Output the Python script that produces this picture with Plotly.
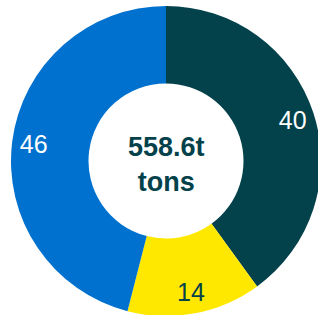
import plotly.graph_objects as go

labels = ["A", "B", "C"]
values = [40, 14, 46]
colors = ["#03414b", "#ffe800", "#0071ce"]
text_colors = ["#ffffff", "#03414b", "#ffffff"]
center_text = "<b>558.6t<br>tons</b>"

FONT = "Liberation Sans, Arial, sans-serif"

fig = go.Figure()
# the donut ring
fig.add_trace(go.Pie(
    labels=labels, values=values, hole=0.5, sort=False,
    direction="clockwise", rotation=0,
    marker=dict(colors=colors, line=dict(width=0)),
    textinfo="none", showlegend=False, hoverinfo="skip",
))
# transparent outer ring carrying the value labels near the outer edge
fig.add_trace(go.Pie(
    labels=labels, values=values, hole=0.72, sort=False,
    direction="clockwise", rotation=0,
    marker=dict(colors=["rgba(0,0,0,0)"] * len(values), line=dict(width=0)),
    textinfo="value", textposition="inside",
    insidetextorientation="horizontal",
    textfont=dict(family=FONT, size=25, color=text_colors),
    showlegend=False, hoverinfo="skip",
))
fig.add_annotation(text=center_text, x=0.5, y=0.49, xref="paper", yref="paper",
                   showarrow=False,
                   font=dict(family=FONT, size=27, color="#03414b"))
fig.update_layout(width=332, height=322, margin=dict(l=11, r=11, t=6, b=6),
                  paper_bgcolor="white", plot_bgcolor="white")
fig.write_html("out.html",
               config={"displayModeBar": False, "staticPlot": True},
               post_script="document.body.style.margin='0';"
                           "document.body.style.overflow='hidden';"
                           "document.documentElement.style.overflow='hidden';")
